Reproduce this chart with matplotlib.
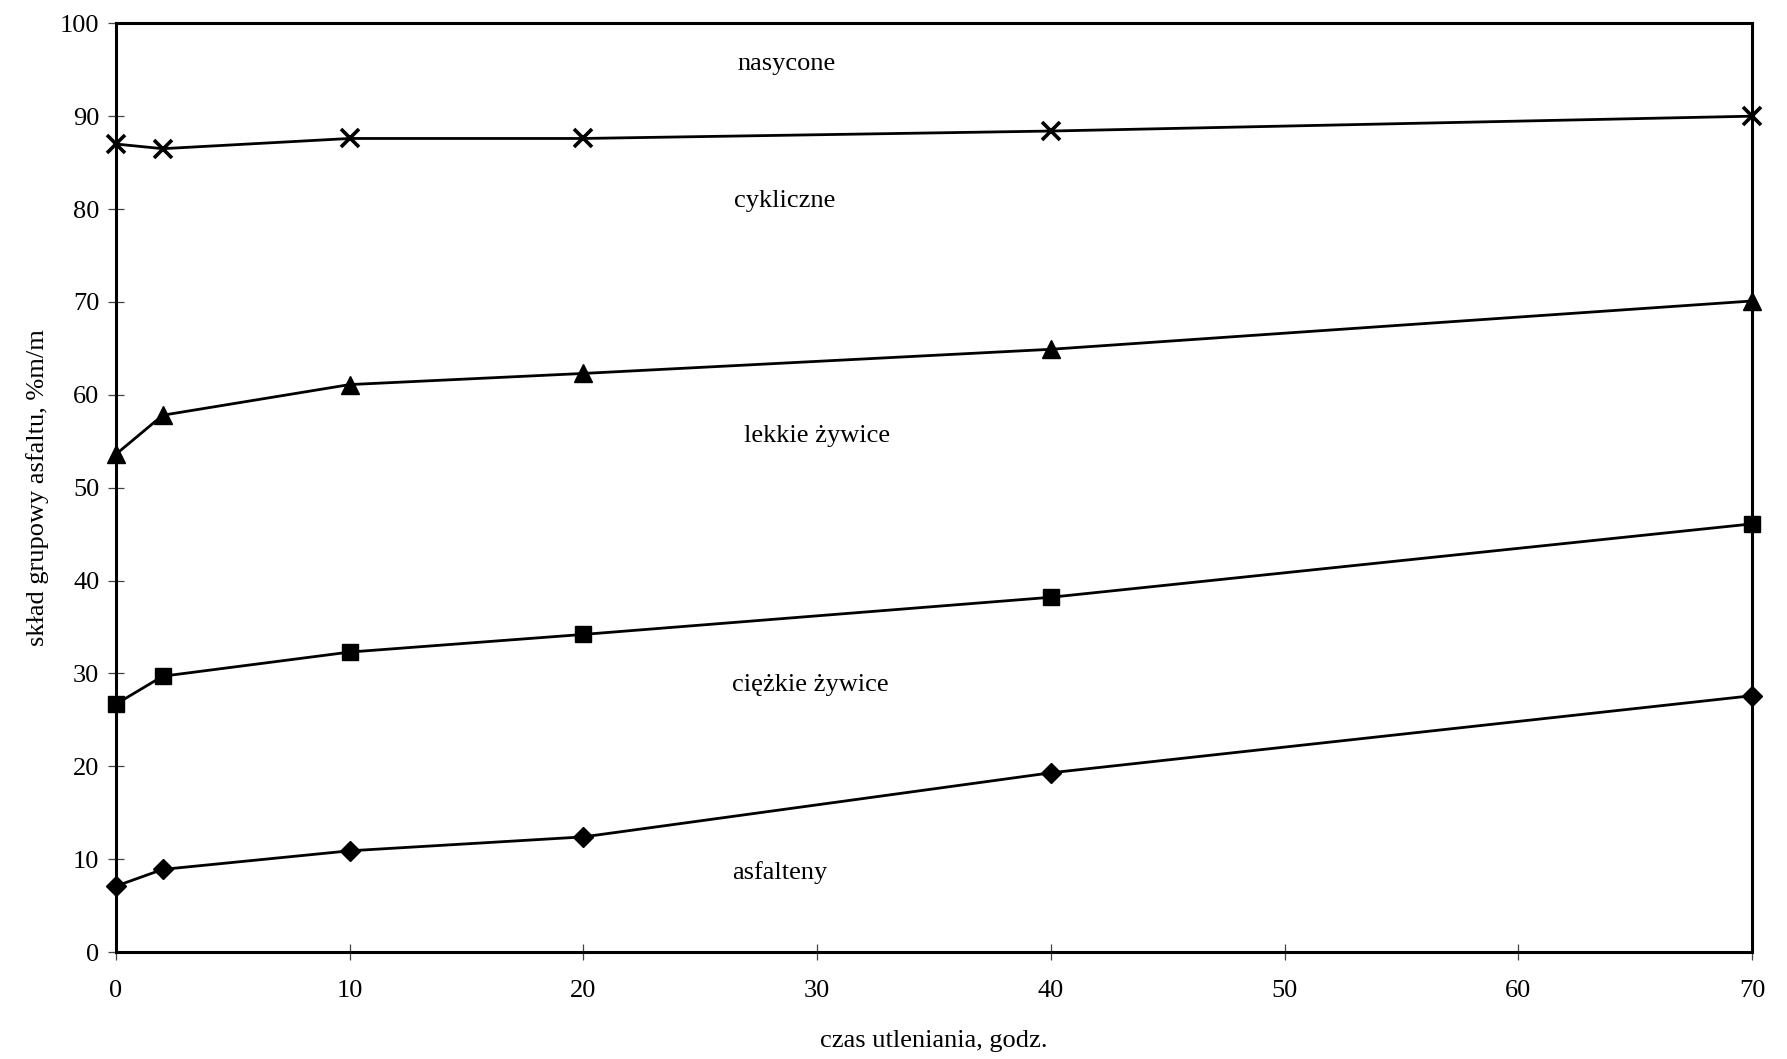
import matplotlib
matplotlib.use("Agg")
import matplotlib.pyplot as plt

# oxidation time, h
czas = [0, 2, 10, 20, 40, 70]

# cumulative group composition boundaries, % m/m
asfalteny = [7.1, 8.9, 10.9, 12.4, 19.3, 27.6]
ciezkie_zywice = [26.7, 29.7, 32.3, 34.2, 38.2, 46.1]
lekkie_zywice = [53.6, 57.8, 61.1, 62.3, 64.9, 70.1]
cykliczne = [87.0, 86.5, 87.6, 87.6, 88.4, 90.0]

region_labels = ["nasycone", "cykliczne", "lekkie żywice", "ciężkie żywice", "asfalteny"]
region_x = [28.7, 28.6, 30.0, 29.7, 28.4]
region_y = [95.6, 80.9, 55.6, 28.8, 8.6]

x_ticks = [0, 10, 20, 30, 40, 50, 60, 70]
y_ticks = [0, 10, 20, 30, 40, 50, 60, 70, 80, 90, 100]

plt.rcParams["font.family"] = ["Liberation Serif", "DejaVu Serif"]

fig = plt.figure(figsize=(17.87, 10.59), dpi=100)
ax = fig.add_axes([0.0649, 0.101, 0.9155, 0.877])

line_kw = dict(color="black", lw=2.0, clip_on=False, zorder=3)
ax.plot(czas, asfalteny, marker="D", ms=10, **line_kw)
ax.plot(czas, ciezkie_zywice, marker="s", ms=11, **line_kw)
ax.plot(czas, lekkie_zywice, marker="^", ms=13, **line_kw)
ax.plot(czas, cykliczne, marker="x", ms=13, mew=2.6, **line_kw)

for lab, tx, ty in zip(region_labels, region_x, region_y):
    ax.text(tx, ty, lab, ha="center", va="center", fontsize=19)

ax.set_xlim(0, 70)
ax.set_ylim(0, 100)
ax.set_xticks(x_ticks)
ax.set_yticks(y_ticks)
ax.tick_params(direction="inout", length=12, width=0.9, color="#444444",
               labelsize=19)
ax.tick_params(axis="y", pad=6)
ax.tick_params(axis="x", pad=14)

for s in ax.spines.values():
    s.set_linewidth(2.2)
    s.set_color("black")

ax.set_xlabel("czas utleniania, godz.", fontsize=19, labelpad=20)
ax.set_ylabel("skład grupowy asfaltu, %m/m", fontsize=19, labelpad=8)

fig.savefig("out.png", dpi=100, facecolor="white")
